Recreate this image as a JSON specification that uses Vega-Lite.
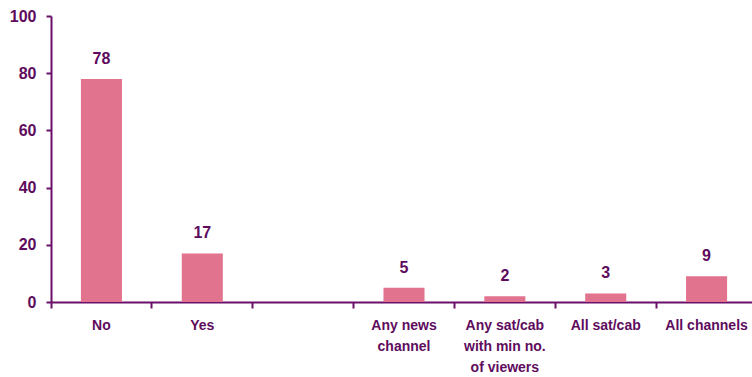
{
  "$schema": "https://vega.github.io/schema/vega-lite/v6.json",
  "width": 706,
  "height": 286,
  "autosize": {"type": "none"},
  "padding": {"left": 51, "top": 16, "right": 0, "bottom": 75},
  "background": "white",
  "config": {"view": {"stroke": null}, "font": "Liberation Sans"},
  "data": {"values": [
    {"cat": "No", "value": 78},
    {"cat": "Yes", "value": 17},
    {"cat": "Any news|channel", "value": 5},
    {"cat": "Any sat/cab|with min no.|of viewers", "value": 2},
    {"cat": "All sat/cab", "value": 3},
    {"cat": "All channels", "value": 9}
  ]},
  "encoding": {
    "x": {"field": "cat", "type": "nominal", "sort": null,
      "scale": {"domain": ["No", "Yes", " ", "Any news|channel", "Any sat/cab|with min no.|of viewers", "All sat/cab", "All channels"], "paddingInner": 0, "paddingOuter": 0},
      "axis": {"title": null, "bandPosition": 0, "labelAngle": 0, "labelExpr": "split(datum.label, '|')",
        "labelFont": "Liberation Sans", "labelFontWeight": "bold", "labelFontSize": 14, "labelColor": "#5E0C5E",
        "labelLineHeight": 21, "labelPadding": 10, "labelBaseline": "top",
        "domainColor": "#6A0F6A", "domainWidth": 2, "tickColor": "#6A0F6A", "tickWidth": 2, "tickSize": 6, "grid": false}},
    "y": {"field": "value", "type": "quantitative",
      "scale": {"domain": [0, 100], "nice": false},
      "axis": {"title": null, "values": [0, 20, 40, 60, 80, 100], "labelFont": "Liberation Sans", "labelFontWeight": "bold",
        "labelFontSize": 16, "labelColor": "#5E0C5E", "labelPadding": 10,
        "domainColor": "#6A0F6A", "domainWidth": 2, "tickColor": "#6A0F6A", "tickWidth": 2, "tickSize": 5, "grid": false}}
  },
  "layer": [
    {"mark": {"type": "bar", "color": "#E1738F", "width": {"band": 0.407}}},
    {"mark": {"type": "text", "baseline": "bottom", "dy": -12, "font": "Liberation Sans", "fontWeight": "bold", "fontSize": 16, "color": "#5E0C5E"},
     "encoding": {"text": {"field": "value", "type": "quantitative"}}}
  ]
}
